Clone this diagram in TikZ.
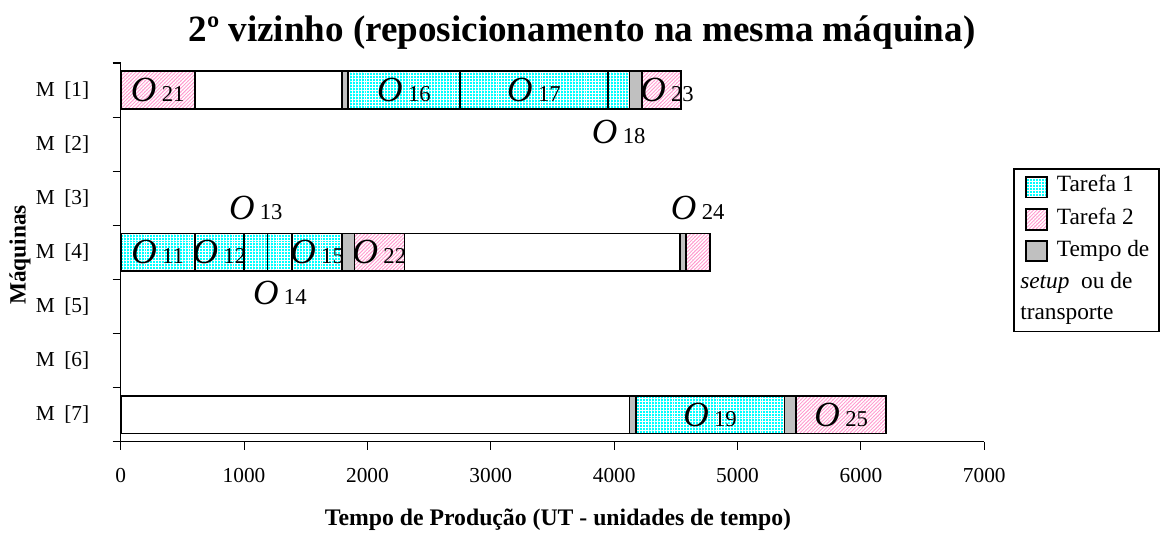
\documentclass[tikz,border=0pt]{standalone}
\usepackage{fontspec}
\setmainfont{Liberation Serif}
\usetikzlibrary{patterns.meta}
\definecolor{cyanc}{RGB}{0,255,255}
\definecolor{pinkc}{RGB}{255,150,205}
\definecolor{grayc}{RGB}{192,192,192}
\newcommand{\olab}[1]{{\fontsize{26.5}{26.5}\selectfont\itshape O}\hspace{4pt}{\fontsize{17}{17}\selectfont #1}}
\newcommand{\bseg}[4]{\path[#4] ({120.7+#2*0.12337},{#1-18.8}) rectangle ({120.7+#3*0.12337},{#1+18.8});}
\tikzset{
  seg/.style={draw=black, line width=1.2pt},
  tone/.style={seg, preaction={fill=cyanc}, pattern={Hatch[angle=0,distance=2.2pt,line width=0.3pt]}, pattern color=white},
  ttwo/.style={seg, preaction={fill=pinkc}, pattern={Lines[angle=45,distance=1.9pt,line width=1.05pt]}, pattern color=white},
  stp/.style={seg, fill=grayc},
  idle/.style={seg, fill=white},
  olb/.style={inner sep=0pt},
  axisline/.style={line width=0.8pt, draw=black},
  ticklab/.style={font=\fontsize{16}{16}\selectfont},
  leglab/.style={font=\fontsize{17.5}{17.5}\selectfont, anchor=base west, inner sep=0pt}
}
\begin{document}
\begin{tikzpicture}[x=0.75pt,y=-0.75pt]
\useasboundingbox (0,0) rectangle (1163,536);
% title
\node[font=\fontsize{27.8}{27.8}\selectfont\bfseries] (title) at (582,33) {2º vizinho (reposicionamento na mesma máquina)};
% axes
\draw[axisline] (120.7,63) -- (120.7,441.7) -- (984.3,441.7);
\foreach \k in {0,...,7} \draw[axisline] (112.5,{63+54.1*\k}) -- (120.7,{63+54.1*\k});
\foreach \i in {0,...,7} {
  \draw[axisline] ({120.7+123.37*\i},441.7) -- ({120.7+123.37*\i},449.5);
  \pgfmathtruncatemacro{\v}{\i*1000}
  \node[ticklab] (xl\i) at ({120.7+123.37*\i},476) {\v};
}
\foreach \k in {1,...,7}
  \node[ticklab, anchor=east] (yl\k) at (94,{90.05+54.1*(\k-1)}) {M\hspace{0.45em}[\k]};
\node[font=\fontsize{17.8}{17.8}\selectfont\bfseries] (xtitle) at (558,520) {Tempo de Produção (UT - unidades de tempo)};
\node[font=\fontsize{17.5}{17.5}\selectfont\bfseries, rotate=90] (ytitle) at (20,255) {Máquinas};
% M1
\def\ra{90.05}
\bseg{\ra}{0}{600}{ttwo}
\bseg{\ra}{600}{1795}{idle}
\bseg{\ra}{1795}{1842}{stp}
\bseg{\ra}{1842}{2750}{tone}
\bseg{\ra}{2750}{3950}{tone}
\bseg{\ra}{3950}{4125}{tone}
\bseg{\ra}{4125}{4225}{stp}
\bseg{\ra}{4225}{4540}{ttwo}
\node[olb] (o21) at ({120.7+300*0.12337},\ra) {\olab{21}};
\node[olb] (o16) at ({120.7+2296*0.12337},\ra) {\olab{16}};
\node[olb] (o17) at ({120.7+3350*0.12337},\ra) {\olab{17}};
\node[olb] (o18) at ({120.7+4037*0.12337},132) {\olab{18}};
\node[olb] (o23) at (667,\ra) {\olab{23}};
% M4
\def\rb{252.35}
\bseg{\rb}{0}{600}{tone}
\bseg{\rb}{600}{1000}{tone}
\bseg{\rb}{1000}{1190}{tone}
\bseg{\rb}{1190}{1390}{tone}
\bseg{\rb}{1390}{1795}{tone}
\bseg{\rb}{1795}{1895}{stp}
\bseg{\rb}{1895}{2300}{ttwo}
\bseg{\rb}{2300}{4535}{idle}
\bseg{\rb}{4535}{4580}{stp}
\bseg{\rb}{4580}{4775}{ttwo}
\node[olb] (o11) at ({120.7+300*0.12337},\rb) {\olab{11}};
\node[olb] (o12) at ({120.7+800*0.12337},\rb) {\olab{12}};
\node[olb] (o13) at ({120.7+1095*0.12337},208) {\olab{13}};
\node[olb] (o14) at ({120.7+1290*0.12337},293) {\olab{14}};
\node[olb] (o15) at ({120.7+1592*0.12337},\rb) {\olab{15}};
\node[olb] (o22) at ({120.7+2097*0.12337},\rb) {\olab{22}};
\node[olb] (o24) at ({120.7+4677*0.12337},208) {\olab{24}};
% M7
\def\rc{414.65}
\bseg{\rc}{0}{4125}{idle}
\bseg{\rc}{4125}{4175}{stp}
\bseg{\rc}{4175}{5380}{tone}
\bseg{\rc}{5380}{5475}{stp}
\bseg{\rc}{5475}{6205}{ttwo}
\node[olb] (o19) at ({120.7+4777*0.12337},\rc) {\olab{19}};
\node[olb] (o25) at ({120.7+5840*0.12337},\rc) {\olab{25}};
% legend
\draw[line width=0.8pt] (1014,169) rectangle (1159,331.7);
\path[tone] (1025.7,176.7) rectangle (1046.7,197.3);
\path[ttwo] (1025.7,209) rectangle (1046.7,230);
\path[stp] (1025.7,240.7) rectangle (1046.7,261);
\node[leglab] (lg1) at (1056.7,191.7) {Tarefa 1};
\node[leglab] (lg2) at (1056.7,224) {Tarefa 2};
\node[leglab] (lg3) at (1056.7,256.7) {Tempo de};
\node[leglab] (lg4) at (1020,288) {\textit{setup}\hspace{0.5em}ou de};
\node[leglab] (lg5) at (1020,319) {transporte};
\end{tikzpicture}
\end{document}
